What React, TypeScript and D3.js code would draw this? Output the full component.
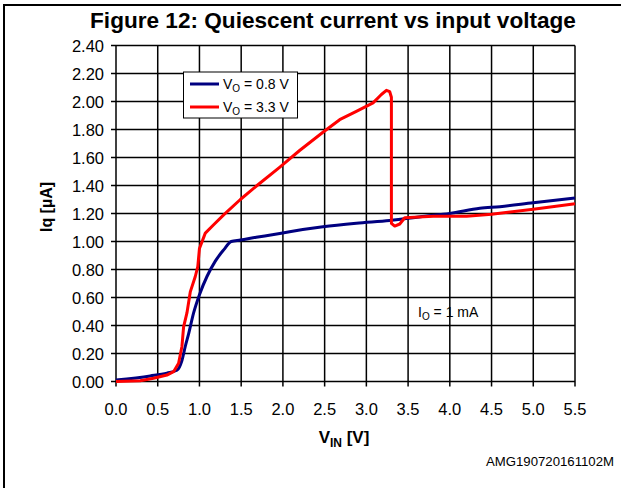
import React from "react";
import * as d3 from "d3";

const xTicks = [0, 0.5, 1.0, 1.5, 2.0, 2.5, 3.0, 3.5, 4.0, 4.5, 5.0, 5.5];
const yTicks = [0, 0.2, 0.4, 0.6, 0.8, 1.0, 1.2, 1.4, 1.6, 1.8, 2.0, 2.2, 2.4];

const blueV = [0, 0.41, 0.61, 0.73, 0.79, 0.83, 0.87, 0.93, 1.0, 1.09, 1.19, 1.29, 1.38, 1.49, 1.68, 1.89, 2.08, 2.48, 2.88, 3.28, 3.7, 4.0, 4.36, 4.6, 5.0, 5.5];
const blueI = [0.01, 0.04, 0.06, 0.08, 0.15, 0.25, 0.34, 0.49, 0.62, 0.75, 0.86, 0.94, 1.0, 1.01, 1.03, 1.05, 1.07, 1.105, 1.13, 1.15, 1.18, 1.2, 1.237, 1.249, 1.277, 1.31];

const redV = [0, 0.29, 0.45, 0.61, 0.69, 0.75, 0.79, 0.81, 0.85, 0.89, 0.95, 0.98, 1.0, 1.07, 1.17, 1.29, 1.49, 1.69, 1.96, 2.2, 2.48, 2.68, 2.88, 3.08, 3.18, 3.24, 3.28, 3.3, 3.3, 3.34, 3.4, 3.46, 3.8, 4.2, 4.5, 5.0, 5.5];
const redI = [0.0, 0.006, 0.023, 0.046, 0.07, 0.13, 0.25, 0.39, 0.49, 0.64, 0.75, 0.82, 0.95, 1.06, 1.12, 1.19, 1.3, 1.4, 1.53, 1.65, 1.78, 1.87, 1.93, 1.99, 2.05, 2.08, 2.07, 2.03, 1.13, 1.11, 1.125, 1.17, 1.18, 1.18, 1.195, 1.23, 1.27];

const seriesNames = ["0.8 V", "3.3 V"];
const seriesColors = ["#000080", "#ff0000"];

const L = 116, R = 575, T = 45.5, B = 381.5;

export default function App() {
  const x = d3.scaleLinear().domain([0, 5.5]).range([L, R]);
  const y = d3.scaleLinear().domain([0, 2.4]).range([B, T]);
  const lineBlue = d3.line<[number, number]>().x((d) => x(d[0])).y((d) => y(d[1])).curve(d3.curveMonotoneX);
  const lineRed = d3.line<[number, number]>().x((d) => x(d[0])).y((d) => y(d[1]));
  const blue = blueV.map((v, i) => [v, blueI[i]] as [number, number]);
  const red = redV.map((v, i) => [v, redI[i]] as [number, number]);
  const font = "Arial, 'Liberation Sans', sans-serif";

  return (
    <svg width={630} height={488} style={{ position: "absolute", left: 0, top: 0, background: "#fff" }} fontFamily={font}>
      <rect x={0} y={0} width={630} height={488} fill="#fff" />
      <line x1={4} y1={5} x2={4} y2={488} stroke="#000" strokeWidth={2} />
      <line x1={3} y1={5} x2={621} y2={5} stroke="#000" strokeWidth={2} />
      <text x={333} y={28} textAnchor="middle" fontSize={22.6} fontWeight="bold">Figure 12: Quiescent current vs input voltage</text>
      {xTicks.map((t) => (
        <line key={"gx" + t} x1={x(t)} x2={x(t)} y1={T} y2={B + 5} stroke="#000" strokeWidth={1.5} />
      ))}
      {yTicks.map((t) => (
        <line key={"gy" + t} x1={L - 5} x2={R} y1={y(t)} y2={y(t)} stroke="#000" strokeWidth={1.5} />
      ))}
      {yTicks.map((t) => (
        <text key={"ly" + t} x={104} y={y(t) + 6} textAnchor="end" fontSize={16.5}>{t.toFixed(2)}</text>
      ))}
      {xTicks.map((t) => (
        <text key={"lx" + t} x={x(t)} y={415} textAnchor="middle" fontSize={16.5}>{t.toFixed(1)}</text>
      ))}
      <text x={344} y={443} textAnchor="middle" fontSize={17} fontWeight="bold">
        V<tspan fontSize={12} dy={4}>IN</tspan><tspan dy={-4}> [V]</tspan>
      </text>
      <text transform="translate(52,207) rotate(-90)" textAnchor="middle" fontSize={16} fontWeight="bold">Iq [µA]</text>
      <path d={lineBlue(blue) || ""} fill="none" stroke={seriesColors[0]} strokeWidth={3} strokeLinejoin="round" />
      <path d={lineRed(red) || ""} fill="none" stroke={seriesColors[1]} strokeWidth={3} strokeLinejoin="round" />
      <rect x={183.5} y={72} width={114} height={46} fill="#fff" stroke="#000" strokeWidth={1} />
      {seriesNames.map((n, i) => (
        <g key={n}>
          <line x1={190} x2={219} y1={84 + i * 23} y2={84 + i * 23} stroke={seriesColors[i]} strokeWidth={3} />
          <text x={223} y={89 + i * 23} fontSize={14}>
            V<tspan fontSize={10} dy={3}>O</tspan><tspan dy={-3}> = {n}</tspan>
          </text>
        </g>
      ))}
      <text x={418} y={317} fontSize={14}>
        I<tspan fontSize={10} dy={3}>O</tspan><tspan dy={-3}> = 1 mA</tspan>
      </text>
      <text x={614} y={466} textAnchor="end" fontSize={13.2}>AMG190720161102M</text>
    </svg>
  );
}
